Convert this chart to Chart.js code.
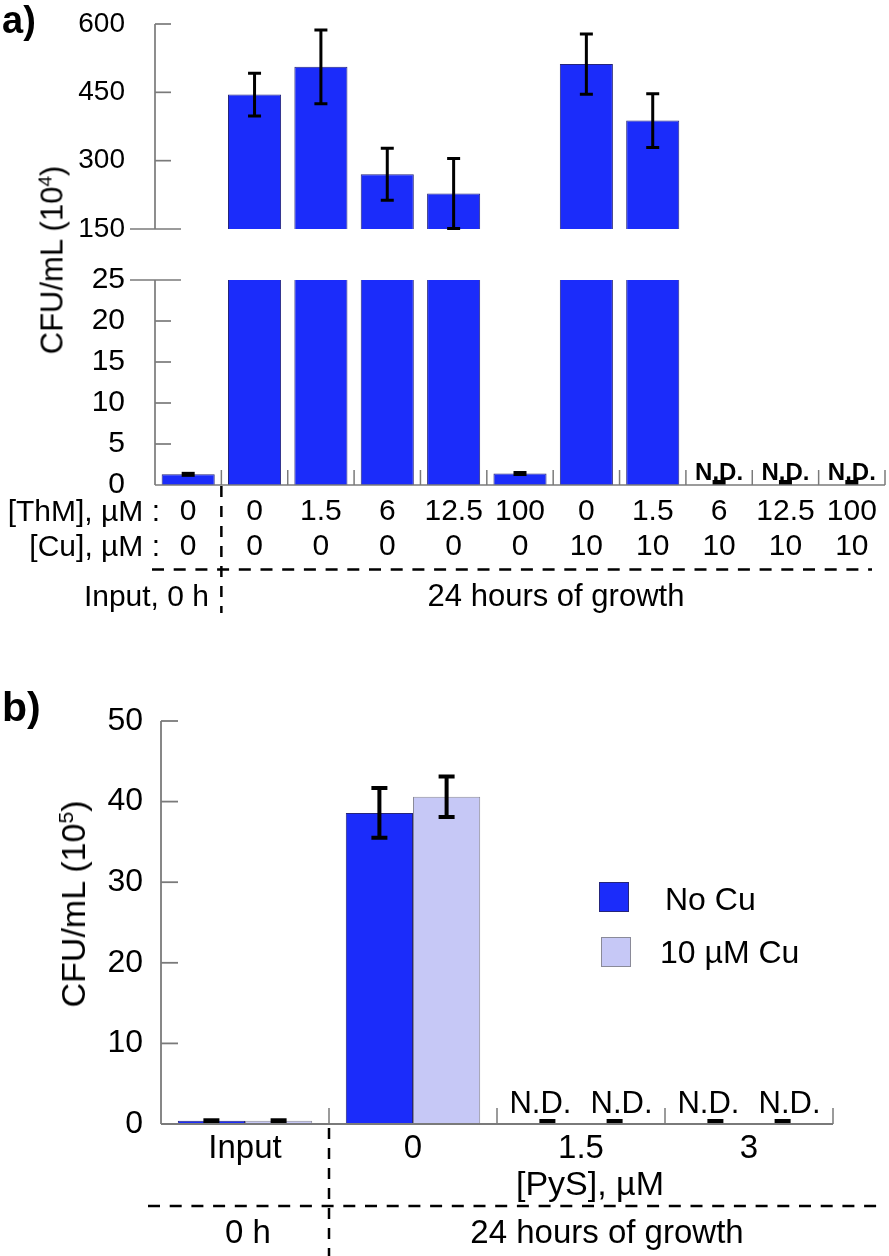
<!DOCTYPE html>
<html><head><meta charset="utf-8">
<script src="https://cdn.jsdelivr.net/npm/chart.js@4.4.1/dist/chart.umd.min.js"></script>
<style>
html,body{margin:0;padding:0;background:#fff;}
#page{position:relative;width:889px;height:1256px;overflow:hidden;font-family:"Liberation Sans",Arial,Helvetica,sans-serif;color:#000;background:#fff;}
canvas{position:absolute;left:0;}
.t{position:absolute;line-height:1;white-space:nowrap;z-index:2;}
.rot{position:absolute;line-height:1;white-space:nowrap;z-index:2;transform:translate(-50%,-50%) rotate(-90deg);}
.rot sup{font-size:0.62em;vertical-align:super;line-height:0;}
.sw{position:absolute;width:30px;height:30px;box-sizing:border-box;z-index:2;}
</style></head><body>
<div id="page">
<canvas id="cA1" width="889" height="250" style="top:0px"></canvas>
<canvas id="cA2" width="889" height="390" style="top:250px"></canvas>
<canvas id="cB" width="889" height="616" style="top:640px"></canvas>
</div>
<script>
// ---------------- data: panel a ----------------
const thmLabels = ['0','0','1.5','6','12.5','100','0','1.5','6','12.5','100'];
const cuLabels  = ['0','0','0','0','0','0','10','10','10','10','10'];
const cfuA      = [1.3, 445, 506, 270, 228, 1.4, 512, 388, 0, 0, 0];
const errA      = [0.2, 47, 81, 57, 77, 0.2, 66, 59, 0, 0, 0];
const ndA       = [false,false,false,false,false,false,false,false,true,true,true];
const upperTicksA = [150, 300, 450, 600];
const lowerTicksA = [0, 5, 10, 15, 20, 25];

// ---------------- data: panel b ----------------
const pysLabels = ['Input','0','1.5','3'];
const noCu      = [0.4, 38.6, 0, 0];
const noCuErr   = [0.15, 3.1, 0, 0];
const withCu    = [0.4, 40.6, 0, 0];
const withCuErr = [0.15, 2.5, 0, 0];
const ndB       = [false, false, true, true];
const ticksB    = [0, 10, 20, 30, 40, 50];
const seriesB   = ['No Cu', '10 \u00b5M Cu'];

const BLUE = '#1b2cfa', BLUE_EDGE = '#25257a', LAV = '#c6c8f6', LAV_EDGE = '#8a8a98', AXIS = '#7a7a7a';
const FONT = "'Liberation Sans', Arial, Helvetica, sans-serif";
Chart.defaults.font.family = FONT;
Chart.defaults.color = '#000';
const page = document.getElementById('page');

function baseOpts(padding) {
  return {responsive:false, maintainAspectRatio:false, animation:false, devicePixelRatio:1, events:[],
    layout:{padding}, plugins:{legend:{display:false}, tooltip:{enabled:false}}};
}
function line(ctx, x1, y1, x2, y2, color, w, dash) {
  ctx.save(); ctx.strokeStyle = color; ctx.lineWidth = w; ctx.setLineDash(dash || []);
  ctx.beginPath(); ctx.moveTo(x1, y1); ctx.lineTo(x2, y2); ctx.stroke(); ctx.restore();
}
function errorBars(errSets, capW, lw, skip) {
  return {id:'errorBars', afterDatasetsDraw(chart) {
    const ctx = chart.ctx, ys = chart.scales.y;
    ctx.save(); ctx.fillStyle = '#000'; ctx.strokeStyle = '#000';
    chart.data.datasets.forEach((ds, di) => {
      chart.getDatasetMeta(di).data.forEach((bar, i) => {
        const v = ds.data[i], e = errSets[di][i];
        if (skip(v, ys)) return;
        const yt = ys.getPixelForValue(v + e), yb = ys.getPixelForValue(v - e), x = bar.x;
        if (yb - yt < 5) {
          let yc = (yt + yb) / 2;
          if (v === 0) yc = ys.getPixelForValue(0) - 2.5;
          ctx.fillRect(x - capW / 2, yc - 2.5, capW, 5);
        } else {
          ctx.lineWidth = lw; ctx.beginPath();
          ctx.moveTo(x, yt); ctx.lineTo(x, yb);
          ctx.moveTo(x - capW / 2, yt); ctx.lineTo(x + capW / 2, yt);
          ctx.moveTo(x - capW / 2, yb); ctx.lineTo(x + capW / 2, yb);
          ctx.stroke();
        }
      });
    });
    ctx.restore();
  }};
}
function yScale(min, max, tickArr, width, pad, size) {
  return {min, max, afterBuildTicks: s => { s.ticks = tickArr.map(v => ({value:v})); },
    afterFit: s => { s.width = width; s.paddingTop = 0; s.paddingBottom = 0; },
    grid:{display:false, drawTicks:false, tickLength:0}, border:{display:false},
    ticks:{padding:pad, color:'#000', font:{family:FONT, size}}};
}

// ---------------- panel a, upper part ----------------
const chartA1 = new Chart(document.getElementById('cA1'), {
  type:'bar',
  data:{labels: thmLabels, datasets:[{data: cfuA, backgroundColor: BLUE, borderColor: BLUE_EDGE, borderWidth: 1,
    categoryPercentage: 0.8, barPercentage: 1.0, clip: 0}]},
  options: Object.assign(baseOpts({top:24, bottom:21, left:0, right:4}), {
    scales:{x:{display:false}, y: yScale(150, 600, upperTicksA, 155, 30, 28)}}),
  plugins:[errorBars([errA], 13, 3, (v, ys) => v < ys.min), {id:'axA1', afterDraw(chart) {
    const ctx = chart.ctx, a = chart.chartArea, ys = chart.scales.y;
    line(ctx, a.left, a.top, a.left, a.bottom, AXIS, 1.7);
    ys.ticks.forEach(t => { const y = ys.getPixelForValue(t.value);
      if (t.value === ys.min) line(ctx, a.left - 25, y, a.left + 26, y, AXIS, 1.7);
      else line(ctx, a.left, y, a.left + 16, y, AXIS, 1.7); });
  }}]
});

// ---------------- panel a, lower part ----------------
const chartA2 = new Chart(document.getElementById('cA2'), {
  type:'bar',
  data:{labels: thmLabels.map((t, i) => [t, cuLabels[i]]), datasets:[{data: cfuA, backgroundColor: BLUE, borderColor: BLUE_EDGE, borderWidth: 1,
    categoryPercentage: 0.8, barPercentage: 1.0, clip: 0}]},
  options: Object.assign(baseOpts({top:30, bottom:0, left:0, right:4}), {
    scales:{
      x:{afterFit: s => { s.height = 155; s.paddingLeft = 0; s.paddingRight = 0; },
        grid:{display:false, drawTicks:false, tickLength:0}, border:{display:false},
        ticks:{padding:9.5, maxRotation:0, autoSkip:false, color:'#000', font:{family:FONT, size:30, lineHeight:35/30}}},
      y: yScale(0, 25, lowerTicksA, 155, 30, 30)}}),
  plugins:[errorBars([errA], 13, 3, (v, ys) => v > ys.max), {id:'axA2', afterDraw(chart) {
    const ctx = chart.ctx, a = chart.chartArea, ys = chart.scales.y, xs = chart.scales.x;
    line(ctx, a.left, a.top, a.left, a.bottom, AXIS, 1.7);
    line(ctx, a.left, a.bottom, a.right, a.bottom, AXIS, 1.7);
    ys.ticks.forEach(t => { const y = ys.getPixelForValue(t.value);
      if (t.value === ys.max) line(ctx, a.left - 25, y, a.left + 26, y, AXIS, 1.7);
      else if (t.value !== ys.min) line(ctx, a.left, y, a.left + 16, y, AXIS, 1.7); });
    const bw = xs.getPixelForValue(1) - xs.getPixelForValue(0);
    for (let i = 1; i <= thmLabels.length; i++) {
      const x = xs.getPixelForValue(i) - bw / 2;
      line(ctx, x, a.bottom, x, a.bottom - 15, AXIS, 1.5);
    }
    const xb = xs.getPixelForValue(1) - bw / 2;
    line(ctx, 152, 319.5, 872, 319.5, '#000', 2.5, [12, 9.7]);
    line(ctx, xb, a.bottom + 1, xb, 363, '#000', 2.5, [11, 9]);
  }}]
});

// ---------------- panel b ----------------
const chartB = new Chart(document.getElementById('cB'), {
  type:'bar',
  data:{labels: pysLabels, datasets:[
    {label: seriesB[0], data: noCu, backgroundColor: BLUE, borderColor: BLUE_EDGE, borderWidth: 1, categoryPercentage: 0.8, barPercentage: 1.0},
    {label: seriesB[1], data: withCu, backgroundColor: LAV, borderColor: LAV_EDGE, borderWidth: 1, categoryPercentage: 0.8, barPercentage: 1.0}]},
  options: Object.assign(baseOpts({top:81, bottom:0, left:0, right:56}), {
    scales:{
      x:{afterFit: s => { s.height = 132; s.paddingLeft = 0; s.paddingRight = 0; },
        grid:{display:false, drawTicks:false, tickLength:0}, border:{display:false},
        ticks:{padding:5, maxRotation:0, autoSkip:false, color:'#000', font:{family:FONT, size:33, lineHeight:1.2}}},
      y: yScale(0, 50, ticksB, 161, 18, 32)}}),
  plugins:[errorBars([noCuErr, withCuErr], 16, 4, () => false), {id:'axB', afterDraw(chart) {
    const ctx = chart.ctx, a = chart.chartArea, ys = chart.scales.y, xs = chart.scales.x;
    line(ctx, a.left, a.top, a.left, a.bottom, AXIS, 1.8);
    line(ctx, a.left, a.bottom, a.right, a.bottom, AXIS, 1.8);
    ys.ticks.forEach(t => { const y = ys.getPixelForValue(t.value);
      if (t.value !== ys.min) line(ctx, a.left, y, a.left + 17, y, AXIS, 1.8); });
    const bw = xs.getPixelForValue(1) - xs.getPixelForValue(0);
    for (let i = 1; i <= pysLabels.length; i++) {
      const x = xs.getPixelForValue(i) - bw / 2;
      line(ctx, x, a.bottom, x, a.bottom - 16, AXIS, 1.5);
    }
    const xb = xs.getPixelForValue(1) - bw / 2;
    line(ctx, 148, 566, 877, 566, '#000', 2.5, [12, 9.7]);
    line(ctx, xb, a.bottom + 4, xb, 616, '#000', 2.5, [11, 9]);
  }}]
});

// ---------------- text ----------------
function addText(txt, x, baseline, size, align, weight) {
  const d = document.createElement('div');
  d.className = 't'; d.textContent = txt;
  d.style.fontSize = size + 'px'; d.style.left = x + 'px';
  d.style.top = (baseline - 0.8465 * size) + 'px';
  if (weight) d.style.fontWeight = weight;
  d.style.transform = align === 'center' ? 'translateX(-50%)' : align === 'right' ? 'translateX(-100%)' : 'none';
  page.appendChild(d);
}
function addRot(html, cx, cy, size) {
  const d = document.createElement('div');
  d.className = 'rot'; d.innerHTML = html;
  d.style.fontSize = size + 'px'; d.style.left = cx + 'px'; d.style.top = cy + 'px';
  page.appendChild(d);
}
addText('a)', 2, 33, 38, 'left', 'bold');
addText('b)', 2, 722, 41, 'left', 'bold');
addRot('CFU/mL (10<sup>4</sup>)', 52, 260, 31);
addRot('CFU/mL (10<sup>5</sup>)', 73, 904, 34);
addText('[ThM], \u00b5M :', 160, 521.7, 30, 'right');
addText('[Cu], \u00b5M :', 160, 556.7, 30, 'right');
addText('Input, 0 h', 209, 606.7, 30, 'right');
addText('24 hours of growth', 556, 606.7, 31, 'center');
addText('[PyS], \u00b5M', 590, 1195, 34, 'center');
addText('0 h', 248, 1242.7, 33, 'center');
addText('24 hours of growth', 607, 1242.5, 33, 'center');

// N.D. labels at the bar positions from the library
const metaA = chartA2.getDatasetMeta(0);
ndA.forEach((nd, i) => { if (nd) addText('N.D.', metaA.data[i].x, 480, 24, 'center', 'bold'); });
const ndShiftB = [-7, 7];
[0, 1].forEach(di => {
  const meta = chartB.getDatasetMeta(di);
  ndB.forEach((nd, i) => { if (nd) addText('N.D.', meta.data[i].x + ndShiftB[di], 1113, 31, 'center'); });
});

// legend
const sw1 = document.createElement('div'); sw1.className = 'sw';
sw1.style.cssText += 'left:599px;top:882px;background:' + BLUE + ';border:1px solid ' + BLUE_EDGE + ';';
const sw2 = document.createElement('div'); sw2.className = 'sw';
sw2.style.cssText += 'left:601px;top:937px;background:' + LAV + ';border:1px solid ' + LAV_EDGE + ';';
page.appendChild(sw1); page.appendChild(sw2);
addText(seriesB[0], 665, 910, 32, 'left');
addText(seriesB[1], 660, 962.7, 32, 'left');
</script>
</body></html>
